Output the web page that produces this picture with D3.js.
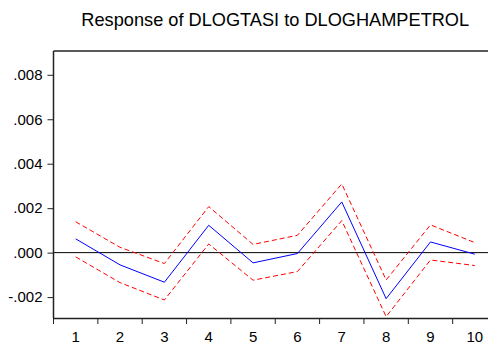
<!DOCTYPE html>
<html><head><meta charset="utf-8">
<script src="https://cdn.jsdelivr.net/npm/d3@7"></script>
<style>body{margin:0;background:#fff}svg{display:block}</style>
</head><body>
<script>
const periods = [1,2,3,4,5,6,7,8,9,10];
const response = [0.00062,-0.00055,-0.00133,0.00123,-0.00046,-0.00004,0.00228,-0.00207,0.00048,-0.00007];
const upper = [0.00139,0.00024,-0.00049,0.00207,0.00037,0.00078,0.00309,-0.00123,0.00125,0.00045];
const lower = [-0.00019,-0.00135,-0.00213,0.00039,-0.00124,-0.00085,0.00144,-0.00288,-0.00033,-0.00058];
const yTicks = [-0.002,0,0.002,0.004,0.006,0.008];
const title = "Response of DLOGTASI to DLOGHAMPETROL";

const W = 488, H = 346;
const m = {left:53.5, right:497, top:51, bottom:318};
const svg = d3.select("body").append("svg").attr("width",W).attr("height",H);

const x = d3.scaleBand().domain(periods).range([m.left, m.right]);
const y = d3.scaleLinear().domain([-0.00294, 0.00907]).range([m.bottom, m.top]);
const cx = d => x(d) + x.bandwidth()/2;

const font = "Liberation Sans, Arial, sans-serif";

svg.append("text").attr("x",(m.left+m.right)/2).attr("y",26)
  .attr("text-anchor","middle").attr("font-family",font).attr("font-size",18.2)
  .attr("fill","#000").text(title);

// zero line
svg.append("line").attr("x1",m.left).attr("x2",m.right)
  .attr("y1",y(0)).attr("y2",y(0)).attr("stroke","#000").attr("stroke-width",1);

const line = d3.line().x((d,i)=>cx(periods[i])).y(d=>y(d));
[upper, lower].forEach(s => svg.append("path").attr("d",line(s))
  .attr("fill","none").attr("stroke","#ff0000").attr("stroke-width",1)
  .attr("stroke-dasharray","5,3"));
svg.append("path").attr("d",line(response)).attr("fill","none")
  .attr("stroke","#0000ff").attr("stroke-width",1);

// frame top
svg.append("line").attr("x1",m.left).attr("x2",m.right).attr("y1",m.top).attr("y2",m.top)
  .attr("stroke","#222").attr("stroke-width",1.5);

// y axis
const fmt = d => (d < 0 ? "-" : "") + Math.abs(d).toFixed(3).replace(/^0/, "");
const yAxis = svg.append("g").attr("transform",`translate(${m.left},0)`)
  .call(d3.axisLeft(y).tickValues(yTicks).tickSize(6).tickSizeOuter(0).tickFormat(fmt));
yAxis.select(".domain").attr("stroke","#222").attr("stroke-width",1.5)
  .attr("d",`M0,${m.top}V${m.bottom}`);
yAxis.selectAll(".tick line").attr("stroke","#222");
yAxis.selectAll("text").attr("font-family",font).attr("font-size",15).attr("fill","#000").attr("x",-11);

// x axis
const xAxis = svg.append("g").attr("transform",`translate(0,${m.bottom})`)
  .call(d3.axisBottom(x).tickSize(0).tickSizeOuter(0));
xAxis.select(".domain").attr("stroke","#222").attr("stroke-width",1.5);
xAxis.selectAll("text").attr("font-family",font).attr("font-size",15).attr("fill","#000").attr("dy","1.4em");
svg.append("g").selectAll("line").data(periods).join("line")
  .attr("x1",d=>x(d)).attr("x2",d=>x(d)).attr("y1",m.bottom).attr("y2",m.bottom+6)
  .attr("stroke","#222");
</script>
</body></html>
